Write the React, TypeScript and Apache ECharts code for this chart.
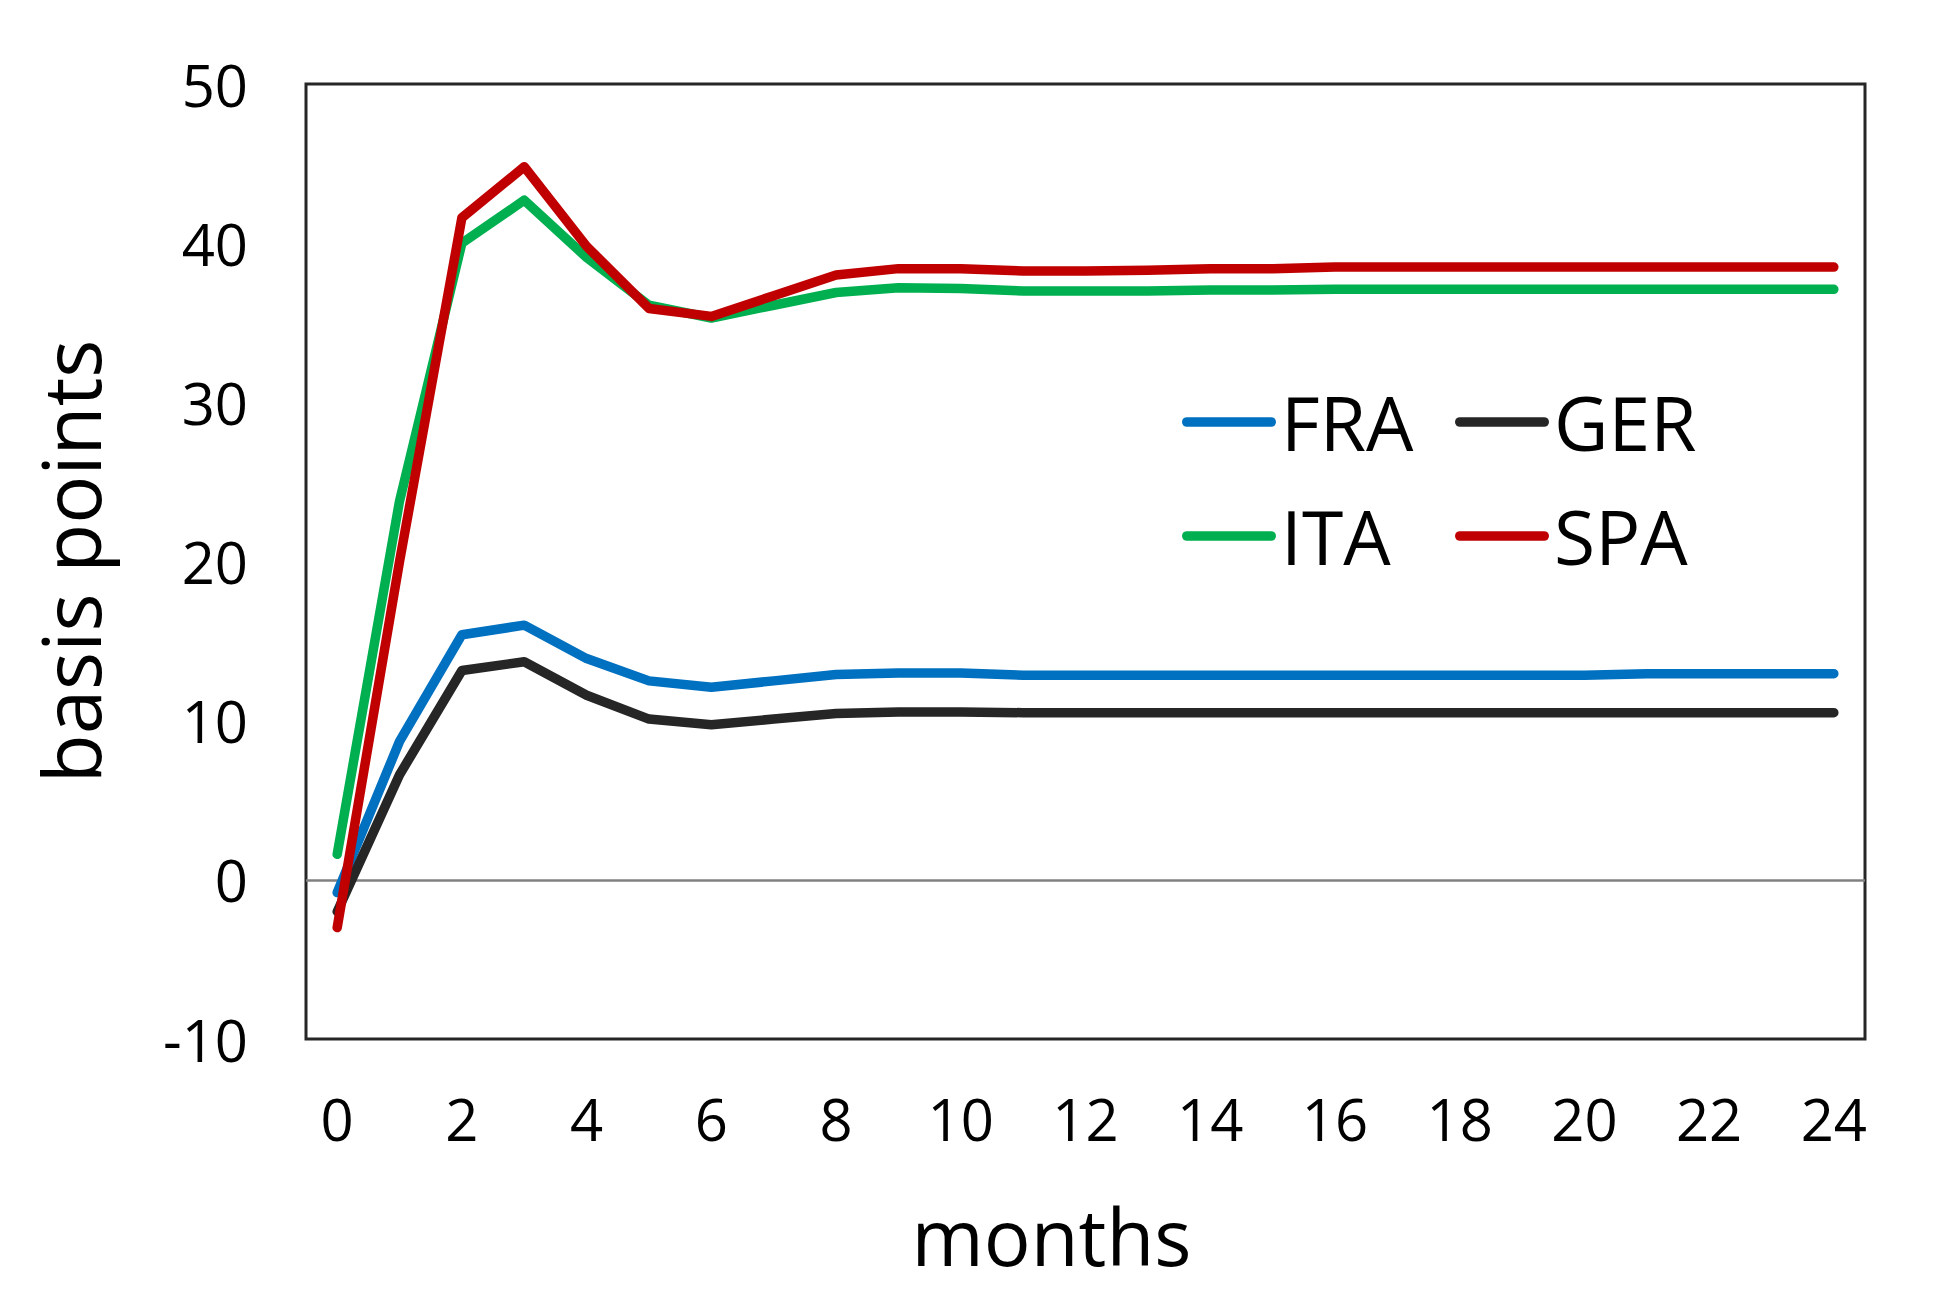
import React, { useEffect, useRef } from "react";
import * as echarts from "echarts";

const months = ["0","1","2","3","4","5","6","7","8","9","10","11","12","13","14","15","16","17","18","19","20","21","22","23","24"];

const fra = [-0.8, 8.7, 15.4, 16.0, 13.9, 12.5, 12.1, 12.5, 12.9, 13.0, 13.0, 12.85, 12.85, 12.85, 12.85, 12.85, 12.85, 12.85, 12.85, 12.85, 12.85, 12.95, 12.95, 12.95, 12.95];
const ger = [-2.0, 6.6, 13.15, 13.7, 11.6, 10.1, 9.75, 10.1, 10.45, 10.55, 10.55, 10.5, 10.5, 10.5, 10.5, 10.5, 10.5, 10.5, 10.5, 10.5, 10.5, 10.5, 10.5, 10.5, 10.5];
const ita = [1.6, 23.8, 40.0, 42.7, 39.1, 36.1, 35.3, 36.1, 36.9, 37.2, 37.15, 37.0, 37.0, 37.0, 37.05, 37.05, 37.1, 37.1, 37.1, 37.1, 37.1, 37.1, 37.1, 37.1, 37.1];
const spa = [-3.0, 20.0, 41.6, 44.8, 39.8, 35.9, 35.4, 36.7, 38.0, 38.4, 38.4, 38.25, 38.25, 38.3, 38.4, 38.4, 38.5, 38.5, 38.5, 38.5, 38.5, 38.5, 38.5, 38.5, 38.5];

const seriesNames = ["FRA", "GER", "ITA", "SPA"];
const seriesColors = ["#0070C0", "#262626", "#00B050", "#C00000"];

const FONT = "'Open Sans', 'Noto Sans', sans-serif";
const legendIcon = "path://M5,0 H92 A5,5 0 0 1 92,10 H5 A5,5 0 0 1 5,0 Z";

export default function App() {
  const ref = useRef<HTMLDivElement>(null);
  useEffect(() => {
    if (!ref.current) return;
    const chart = echarts.init(ref.current, null, { renderer: "svg" });
    const values = [fra, ger, ita, spa];
    const legendCommon = {
      orient: "vertical",
      top: 375,
      itemWidth: 94,
      itemHeight: 10,
      itemGap: 30,
      icon: legendIcon,
      selectedMode: false,
      textStyle: { fontFamily: FONT, fontSize: 75, color: "#000", lineHeight: 84, padding: [0, 0, 0, 0] },
    };
    chart.setOption({
      animation: false,
      backgroundColor: "#fff",
      textStyle: { fontFamily: FONT },
      grid: {
        left: 306,
        right: 81,
        top: 84,
        bottom: 262,
        show: true,
        borderColor: "#262626",
        borderWidth: 3,
        backgroundColor: "transparent",
        containLabel: false,
        outerBoundsMode: "none",
      },
      legend: [
        { ...legendCommon, left: 1177, data: ["FRA", "ITA"] },
        { ...legendCommon, left: 1450, data: ["GER", "SPA"] },
      ],
      xAxis: {
        type: "category",
        data: months,
        boundaryGap: true,
        axisLine: { show: false },
        axisTick: { show: false },
        axisLabel: {
          interval: 1,
          margin: 50,
          fontSize: 58,
          color: "#000",
          fontFamily: FONT,
        },
        splitLine: { show: false },
        name: "months",
        nameLocation: "middle",
        nameGap: 158,
        nameTextStyle: { fontSize: 78, color: "#000", fontFamily: FONT, padding: [0, 68, 0, 0] },
      },
      yAxis: {
        type: "value",
        min: -10,
        max: 50,
        interval: 10,
        axisLine: { show: false },
        axisTick: { show: false },
        splitLine: { show: false },
        axisLabel: { margin: 58, fontSize: 58, color: "#000", fontFamily: FONT },
        name: "basis points",
        nameLocation: "middle",
        nameRotate: 90,
        nameGap: 197,
        nameTextStyle: { fontSize: 80, color: "#000", fontFamily: FONT },
      },
      series: seriesNames.map((name, i) => ({
        name,
        type: "line",
        data: values[i],
        symbol: "none",
        color: seriesColors[i],
        lineStyle: { width: 9.5, color: seriesColors[i], cap: "round", join: "round" },
        z: 3,
        markLine:
          i === 0
            ? {
                silent: true,
                symbol: "none",
                label: { show: false },
                z: 1,
                lineStyle: { color: "#808080", width: 2.5, type: "solid" },
                data: [{ yAxis: 0 }],
              }
            : undefined,
      })),
    });
    return () => chart.dispose();
  }, []);
  return (
    <div
      ref={ref}
      style={{ position: "fixed", left: 0, top: 0, width: 1946, height: 1301, background: "#fff" }}
    />
  );
}
